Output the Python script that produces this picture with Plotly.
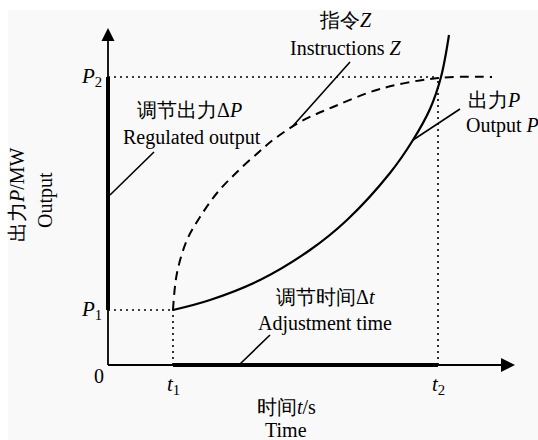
import plotly.graph_objects as go

# ---- data (time / output in schematic units, origin at 0) ----
t1, t2 = 65, 330          # start / end of adjustment
P1, P2 = 55, 288          # initial / target output
t_end, p_end = 407, 337   # axis arrow tips

# Output P (solid curve)
out_t = [65, 102, 152, 202, 239, 282, 305, 322, 333, 341]
out_p = [55, 65, 85, 115, 145, 192, 225, 256, 288, 330]

# Instruction Z (dashed curve)
ins_t = [65, 69, 79, 92, 109, 129, 152, 165, 192, 225, 272, 330, 384]
ins_p = [55, 92, 125, 148, 172, 193, 214, 225, 243, 258, 276, 287, 288]

# leader lines: (x0, y0, x1, y1)
leaders = {
    "regulated": (2, 170, 46, 213),
    "instruction": (184, 238, 242, 303),
    "output": (305, 225, 352, 256),
    "adjust": (132, 1, 162, 30),
}

W, H = 538, 440
X0, Y0 = 108, 365  # pixel position of origin

fig = go.Figure()
BLK = "#000000"

def line(xs, ys, width=1.8, dash="solid", shape="linear"):
    fig.add_trace(go.Scatter(x=xs, y=ys, mode="lines",
                             line=dict(color=BLK, width=width, dash=dash, shape=shape),
                             hoverinfo="skip"))

# thin axis parts
line([0, 0], [0, P1], 1.8)
line([0, 0], [P2, p_end - 10], 1.8)
line([0, t1], [0, 0], 1.8)
line([t2, t_end - 10], [0, 0], 1.8)
# thick parts (regulated output / adjustment time)
line([0, 0], [P1, P2], 4)
line([t1, t2], [0, 0], 4)
# arrowheads
fig.add_trace(go.Scatter(x=[t_end], y=[0], mode="markers",
                         marker=dict(symbol="arrow-right", size=14, color=BLK, line=dict(width=0)),
                         hoverinfo="skip"))
fig.add_trace(go.Scatter(x=[0], y=[p_end], mode="markers",
                         marker=dict(symbol="arrow-up", size=13, color=BLK, line=dict(width=0)),
                         hoverinfo="skip"))

# dotted guides
dot = "2px,4px"
line([0, t2], [P2, P2], 1.6, dot)
line([0, t1], [P1, P1], 1.6, dot)
line([t1, t1], [0, P1], 1.6, dot)
line([t2, t2], [0, P2], 1.6, dot)

# curves
line(ins_t, ins_p, 2, "9px,6px", "spline")
line(out_t, out_p, 2.2, "solid", "spline")

# leaders
for x0, y0, x1, y1 in leaders.values():
    line([x0, x1], [y0, y1], 1.6)

FONT = "Liberation Serif"

def txt(x, y, s, size=20, angle=0, xanchor="center"):
    fig.add_annotation(x=x, y=y, text=s, showarrow=False, xanchor=xanchor,
                       yanchor="middle", textangle=angle,
                       font=dict(family=FONT, size=size, color=BLK))

txt(81, 255, "调节出力Δ<i>P</i>")
txt(84, 228, "Regulated output")
txt(237, 345, "指令<i>Z</i>")
txt(237, 317, "Instructions <i>Z</i>")
txt(358, 265, "出力<i>P</i>", xanchor="left")
txt(356, 240, "Output <i>P</i>", xanchor="left")
txt(217, 68, "调节时间Δ<i>t</i>")
txt(217, 42, "Adjustment time")
txt(178, -42, "时间<i>t</i>/s")
txt(178, -65, "Time")
txt(-91, 170, "出力<i>P</i>/MW", angle=-90)
txt(-63, 165, "Output", angle=-90)
txt(-9, -11, "0")
txt(-17, P1, "<i>P</i><sub>1</sub>", size=21)
txt(-17, P2, "<i>P</i><sub>2</sub>", size=21)
txt(t1, -20, "<i>t</i><sub>1</sub>", size=21)
txt(t2, -20, "<i>t</i><sub>2</sub>", size=21)

fig.update_layout(
    width=W, height=H, margin=dict(l=0, r=0, t=0, b=0),
    paper_bgcolor="#ffffff", plot_bgcolor="rgba(0,0,0,0)",
    showlegend=False,
    xaxis=dict(range=[-X0, W - X0], visible=False, fixedrange=True),
    yaxis=dict(range=[Y0 - H, Y0], visible=False, fixedrange=True),
    shapes=[dict(type="rect", xref="paper", yref="paper", x0=8 / W, x1=1,
                 y0=0, y1=1 - 10 / H, fillcolor="#f9f9f9", line=dict(width=0),
                 layer="below")],
)

fig.write_html("out.html", config={"displayModeBar": False},
               post_script="document.body.style.margin='0';")
